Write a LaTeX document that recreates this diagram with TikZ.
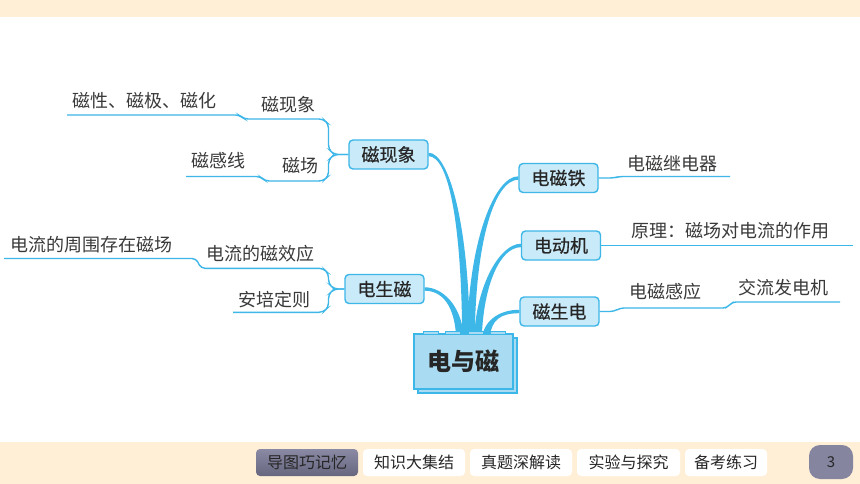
\documentclass[tikz,border=0pt]{standalone}
\usepackage{fontspec}
\setmainfont{Noto Sans CJK SC}
\newfontfamily\nodefont[FakeBold=0.5]{Noto Sans CJK SC}
\usetikzlibrary{calc}
\definecolor{lineblue}{HTML}{3DB6E8}
\definecolor{boxfill}{HTML}{C9EAF8}
\definecolor{mainfill}{HTML}{A9DCF3}
\definecolor{peach}{HTML}{FFEFD7}
\definecolor{btntop}{HTML}{8A8AA5}
\definecolor{btnbot}{HTML}{66667F}
\definecolor{pagegray}{HTML}{8585A0}
\definecolor{txt}{HTML}{3A3A3A}
\definecolor{ntxt}{HTML}{262626}
% tapered connector: #1 start, #2 control near start, #3 control near end, #4 end, #5 side sign
\newcommand\taperlink[5]{%
  \fill[lineblue] ($(#1)+(0,-1.7)$) .. controls ($(#2)+(0,-1.8)$) and ($(#3)+({(#5)*3.6},0)$) .. ($(#4)+({(#5)*3.8},0)$)
    -- ($(#4)+({-(#5)*3.8},0)$) .. controls ($(#3)+({-(#5)*3.6},0)$) and ($(#2)+(0,1.8)$) .. ($(#1)+(0,1.7)$) -- cycle;}
\begin{document}
\begin{tikzpicture}[x=1pt,y=-1pt,
  bbox/.style={draw=lineblue,line width=1.4pt,fill=boxfill,rounded corners=4pt,minimum width=79pt,minimum height=29pt,inner sep=0pt,font=\fontsize{18}{18}\nodefont,text=ntxt},
  leaf/.style={inner sep=0pt,font=\fontsize{18}{18}\selectfont,text=txt},
  thinl/.style={draw=lineblue,line width=1.4pt,rounded corners=4pt},
  btn/.style={fill=white,rounded corners=4pt,inner sep=0pt,minimum height=27pt,font=\fontsize{16}{16}\selectfont,text=ntxt}]
\useasboundingbox (0,0) rectangle (860,484);
\fill[white] (0,0) rectangle (860,484);
\fill[peach] (0,0) rectangle (860,17.5);
\fill[peach] (0,442) rectangle (860,484);

% branch nodes
\node[bbox] (cx) at (388.5,154.5) {磁现象};
\node[bbox] (ds) at (384.5,289) {电生磁};
\node[bbox] (dt) at (558.5,178) {电磁铁};
\node[bbox] (dj) at (561,245.5) {电动机};
\node[bbox] (cs) at (559.5,311.5) {磁生电};

% free ends on the central box
\coordinate (e1) at (460,337);
\coordinate (e2) at (466,337);
\coordinate (e3) at (471,337);
\coordinate (e4) at (478,337);
\coordinate (e5) at (486,337);

% thick tapered connectors
\taperlink{ds.east}{442,289}{458,305}{e1}{1}
\taperlink{cx.east}{448,154.5}{465,220}{e2}{1}
\taperlink{dt.west}{495,178}{472,240}{e3}{-1}
\taperlink{dj.west}{500,245.5}{480,285}{e4}{-1}
\taperlink{cs.west}{500,311.5}{488,320}{e5}{-1}

% central box
\draw[lineblue,line width=1.2pt,fill=mainfill] (418,338) rectangle (517,393);
\node[draw=lineblue,line width=1.4pt,fill=mainfill,minimum width=99pt,minimum height=55pt,inner sep=0pt,font=\fontsize{24}{24}\selectfont\bfseries,text=ntxt] (main) at (463.5,361.5) {电与磁};
\foreach \tx in {423,445.5,468,490.5}
  \draw[lineblue,line width=0.9pt,fill=mainfill] (\tx,331) rectangle ++(15,3);

% leaf end points
\coordinate (a1) at (67,115);
\coordinate (a2) at (186,176.5);
\coordinate (b1) at (4,258.5);
\coordinate (b2) at (233,312.3);
\coordinate (c1) at (730,176.5);
\coordinate (c2) at (853,245.5);
\coordinate (c3) at (840,302);

% thin branches
\draw[thinl] (cx.west) -- (334,154.5) -- (328.5,149) -- (328.5,124) -- (323,119) -- (244,119) -- (239.5,115) -- (a1);
\draw[thinl] (cx.west) -- (334,154.5) -- (328.5,160) -- (328.5,176) -- (323,181) -- (265,181) -- (260.5,176.5) -- (a2);
\draw[thinl] (ds.west) -- (334,289) -- (328.5,283.5) -- (328.5,273.5) -- (323,268.3) -- (201,268.3) -- (196,258.5) -- (b1);
\draw[thinl] (ds.west) -- (334,289) -- (328.5,294.5) -- (328.5,307) -- (323,312.3) -- (b2);
\draw[thinl] (dt.east) -- (614,178) -- (619,176.5) -- (c1);
\draw[thinl] (dj.east) -- (c2);
\draw[thinl] (cs.east) -- (614,311.5) -- (620,308) -- (727,308) -- (732,302) -- (c3);

% leaf texts
\node[leaf] (t1) at (288,105) {磁现象};
\node[leaf] (t2) at (144,101) {磁性、磁极、磁化};
\node[leaf] (t3) at (300,166) {磁场};
\node[leaf] (t4) at (218,161) {磁感线};
\node[leaf] (t5) at (260,254) {电流的磁效应};
\node[leaf] (t6) at (91,245) {电流的周围存在磁场};
\node[leaf] (t7) at (274,300) {安培定则};
\node[leaf] (t8) at (672,164) {电磁继电器};
\node[leaf] (t9) at (730,231) {原理：磁场对电流的作用};
\node[leaf] (t10) at (665,292) {电磁感应};
\node[leaf] (t11) at (783,288) {交流发电机};

% bottom navigation
\node[btn,fill=none,top color=btntop,bottom color=btnbot,minimum width=102pt] (n1) at (307,462.5) {导图巧记忆};
\node[btn,minimum width=102pt] (n2) at (414,462.5) {知识大集结};
\node[btn,minimum width=102pt] (n3) at (521,462.5) {真题深解读};
\node[btn,minimum width=103pt] (n4) at (628.5,462.5) {实验与探究};
\node[btn,minimum width=82pt] (n5) at (726,462.5) {备考练习};
\node[fill=pagegray,rounded corners=11pt,minimum width=44pt,minimum height=34pt,inner sep=0pt,font=\fontsize{15}{15}\selectfont,text=ntxt] (pg) at (831,462) {3};
\end{tikzpicture}
\end{document}
